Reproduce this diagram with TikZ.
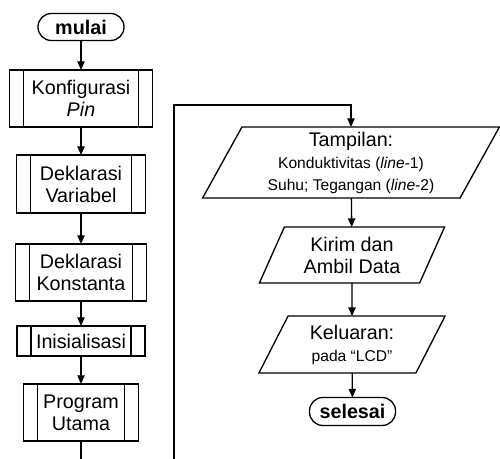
\documentclass[tikz,border=0pt]{standalone}
\usepackage{fontspec}
\setmainfont{Liberation Sans}
\usepackage{tikz,tkz-graph}
\usetikzlibrary{shapes.geometric,arrows.meta}
\newcommand{\bigTxt}{\fontsize{14.8}{16.5}\selectfont}
\newcommand{\smallTxt}{\fontsize{11.7}{14.3}\selectfont}
\tikzstyle{flowLine}=[line width = 1pt]
\tikzstyle{flowArrow}=[line width = 1pt, -{Triangle[length = 6.5pt, width = 5.5pt]}]
\tikzstyle{terminal}=[shape = rectangle, rounded corners = 10pt, draw, line width = 1pt, font = \bigTxt\bfseries, inner sep = 0pt]
\tikzstyle{subProc}=[shape = rectangle, draw, line width = 1pt, align = center, font = \bigTxt, inner sep = 0pt,
  path picture = {\draw[line width = 1pt] ([xshift = 10.5pt]path picture bounding box.north west) -- ([xshift = 10.5pt]path picture bounding box.south west);
    \draw[line width = 1pt] ([xshift = -10.5pt]path picture bounding box.north east) -- ([xshift = -10.5pt]path picture bounding box.south east);}]
\tikzstyle{inOut}=[shape = trapezium, trapezium left angle = 64, trapezium right angle = 116, trapezium stretches = true, draw, line width = 1pt, align = center, font = \bigTxt, inner sep = 0pt]

\begin{document}
\begin{tikzpicture}[x = 0.75pt, y = -0.75pt]
\tikzstyle{VertexStyle} = []
\tikzstyle{EdgeStyle} = [flowArrow]
\useasboundingbox (0,0) rectangle (500,459);
% kolom kiri
\Vertex[style = {terminal, minimum width = 64.5pt, minimum height = 20.25pt}, x = 81, y = 27, L = {mulai}]{mulai}
\Vertex[style = {subProc, minimum width = 107.25pt, minimum height = 42.75pt}, x = 81, y = 98.5, L = {Konfigurasi\\\textit{Pin}}]{konfig}
\Vertex[style = {subProc, minimum width = 96.75pt, minimum height = 43.5pt}, x = 81, y = 184, L = {Deklarasi\\Variabel}]{dekVar}
\Vertex[style = {subProc, minimum width = 98.25pt, minimum height = 42.75pt}, x = 81, y = 272.5, L = {Deklarasi\\Konstanta}]{dekKon}
\Vertex[style = {subProc, minimum width = 96pt, minimum height = 22.5pt}, x = 81, y = 341, L = {Inisialisasi}]{inisial}
\Vertex[style = {subProc, minimum width = 86.25pt, minimum height = 42.75pt}, x = 81, y = 412.5, L = {Program\\Utama}]{program}
% kolom kanan
\Vertex[style = {inOut, minimum width = 223pt, minimum height = 53.25pt}, x = 351, y = 162.5, L = {Tampilan:\\\smallTxt Konduktivitas (\textit{line}-1)\\\smallTxt Suhu; Tegangan (\textit{line}-2)}]{tampil}
\Vertex[style = {inOut, minimum width = 140.25pt, minimum height = 42pt}, x = 352, y = 255, L = {Kirim dan\\Ambil Data}]{kirim}
\Vertex[style = {inOut, minimum width = 140.25pt, minimum height = 42.75pt}, x = 352, y = 344.5, L = {Keluaran:\\\smallTxt pada “LCD”}]{keluar}
\Vertex[style = {terminal, minimum width = 64.5pt, minimum height = 21pt}, x = 352.5, y = 411.5, L = {selesai}]{selesai}
\coordinate (progEnd) at (81,459);
\coordinate (loopBot) at (174,459);
\coordinate (loopTop) at (174,105);
\Edge[](mulai)(konfig)
\Edge[](konfig)(dekVar)
\Edge[](dekVar)(dekKon)
\Edge[](dekKon)(inisial)
\Edge[](inisial)(program)
\Edge[](tampil)(kirim)
\Edge[](kirim)(keluar)
\Edge[](keluar)(selesai)
\draw[flowLine] (program) -- (progEnd);
\draw[flowArrow] (loopBot) -- (loopTop) -| (tampil.north);
\end{tikzpicture}
\end{document}
